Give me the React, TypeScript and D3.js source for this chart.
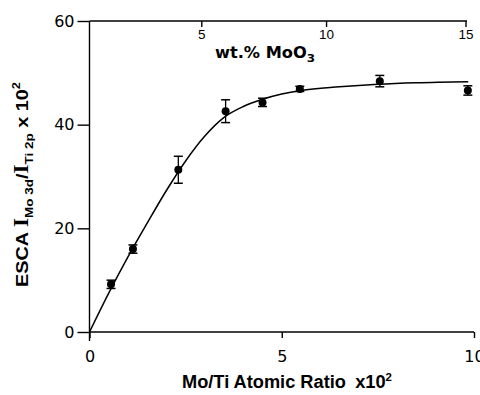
import React, { useRef, useEffect } from 'react';
import * as d3 from 'd3';

// measured points: Mo/Ti atomic ratio x10^2, ESCA intensity ratio x10^2, error
const ratio = [0.56, 1.13, 2.31, 3.54, 4.5, 5.47, 7.55, 9.84];
const intensity = [9.2, 16.0, 31.3, 42.6, 44.3, 46.9, 48.4, 46.6];
const errors = [0.8, 0.8, 2.6, 2.2, 0.8, 0.5, 1.1, 0.9];

// fitted curve
const curveX = [0, 0.5, 1, 1.5, 2, 2.5, 3, 3.5, 4, 4.5, 5, 5.5, 6.5, 7.5, 8.5, 9.85];
const curveY = [0, 7.5, 14.5, 21, 27.3, 33, 37.8, 41.4, 43.5, 44.9, 45.9, 46.6, 47.3, 47.8, 48.1, 48.3];

const yTicks = [0, 20, 40, 60];
const xTicks = [0, 5, 10];
const wtTicks = [5, 10, 15];

// wt.% MoO3 -> Mo/Ti atomic ratio x10^2
const M_MOO3 = 143.94, M_TIO2 = 79.87;
const wtToRatio = (w: number) => (w / 100) * M_TIO2 / ((1 - w / 100) * M_MOO3) * 100;

const App = () => {
    const ref = useRef<SVGSVGElement>(null);

    useEffect(() => {
        const svg = d3.select(ref.current);
        svg.selectAll("*").remove();

        const x = d3.scaleLinear().domain([0, 10]).range([89.5, 474]);
        const y = d3.scaleLinear().domain([0, 60]).range([332, 21]);
        const font = "'Liberation Sans', Arial, sans-serif";
        const tickFont = "'DejaVu Sans', sans-serif";

        // left axis
        const left = svg.append("g").attr("transform", `translate(${x(0)},0)`)
            .call(d3.axisLeft(y).tickValues(yTicks).tickSize(12).tickPadding(3).tickFormat(d3.format("d")));
        left.select(".domain").attr("d", `M0,${y(60)}V${y(0) + 9}`);

        // bottom axis
        const bottom = svg.append("g").attr("transform", `translate(0,${y(0)})`)
            .call(d3.axisBottom(x).tickValues(xTicks).tickSize(6).tickPadding(12.5).tickFormat(d3.format("d")));
        bottom.select(".domain").attr("d", `M${x(0)},0H${x(10)}`);

        svg.selectAll(".tick text").attr("font-size", 16).attr("font-family", tickFont).attr("fill", "#000");
        svg.selectAll(".tick line, .domain").attr("stroke", "#000").attr("stroke-width", 1.4);

        // top axis (wt.% MoO3)
        const top = svg.append("g").attr("transform", `translate(0,${y(60)})`);
        top.append("path").attr("d", `M${x(0)},0H${x(wtToRatio(15)) + 1}`)
            .attr("stroke", "#000").attr("stroke-width", 1.4);
        top.selectAll("line").data(wtTicks).join("line")
            .attr("x1", d => x(wtToRatio(d))).attr("x2", d => x(wtToRatio(d)))
            .attr("y1", 0).attr("y2", 6).attr("stroke", "#000").attr("stroke-width", 1.4);
        top.selectAll("text").data(wtTicks).join("text")
            .attr("x", d => x(wtToRatio(d))).attr("y", 17.5)
            .attr("text-anchor", "middle").attr("font-size", 13.5).attr("font-family", font)
            .text(d => d);

        // curve
        const line = d3.line<number>()
            .x((d, i) => x(curveX[i]))
            .y(d => y(d))
            .curve(d3.curveMonotoneX);
        svg.append("path").datum(curveY)
            .attr("fill", "none").attr("stroke", "#000").attr("stroke-width", 1.5)
            .attr("d", line);

        // error bars + points
        const pts = svg.append("g");
        ratio.forEach((r, i) => {
            const cx = x(r);
            const lo = y(intensity[i] - errors[i]);
            const hi = y(intensity[i] + errors[i]);
            pts.append("line").attr("x1", cx).attr("x2", cx).attr("y1", lo).attr("y2", hi)
                .attr("stroke", "#000").attr("stroke-width", 1.3);
            [lo, hi].forEach(v => pts.append("line")
                .attr("x1", cx - 4.5).attr("x2", cx + 4.5).attr("y1", v).attr("y2", v)
                .attr("stroke", "#000").attr("stroke-width", 1.5));
            pts.append("circle").attr("cx", cx).attr("cy", y(intensity[i])).attr("r", 4).attr("fill", "#000");
        });

        // wt.% label
        const wt = svg.append("text").attr("x", 215).attr("y", 58)
            .attr("textLength", 100).attr("lengthAdjust", "spacingAndGlyphs")
            .attr("font-size", 15).attr("font-weight", "bold").attr("font-family", "'DejaVu Sans', sans-serif");
        wt.append("tspan").text("wt.% MoO");
        wt.append("tspan").attr("dy", 4).attr("font-size", 11).text("3");

        // x title
        const xt = svg.append("text").attr("x", 182).attr("y", 388)
            .attr("textLength", 210).attr("lengthAdjust", "spacingAndGlyphs")
            .attr("font-size", 17.5).attr("font-weight", "bold").attr("font-family", font);
        xt.append("tspan").text("Mo/Ti Atomic Ratio");
        xt.append("tspan").attr("dx", 9).text("x10");
        xt.append("tspan").attr("dy", -7).attr("font-size", 11).text("2");

        // y title
        const serif = "'Liberation Serif', 'Times New Roman', serif";
        const yt = svg.append("text").attr("transform", "translate(28,287) rotate(-90)")
            .attr("textLength", 205).attr("lengthAdjust", "spacingAndGlyphs")
            .attr("font-size", 17).attr("font-weight", "bold").attr("font-family", font);
        yt.append("tspan").text("ESCA ");
        yt.append("tspan").attr("font-family", serif).attr("font-size", 20).text("I");
        yt.append("tspan").attr("dy", 5).attr("font-size", 11.5).text("Mo 3d");
        yt.append("tspan").attr("dy", -5).text("/");
        yt.append("tspan").attr("font-family", serif).attr("font-size", 20).text("I");
        yt.append("tspan").attr("dy", 5).attr("font-size", 11.5).text("Ti 2p");
        yt.append("tspan").attr("dy", -5).text(" x 10");
        yt.append("tspan").attr("dy", -8).attr("font-size", 11).text("2");
    }, []);

    return (
        <svg ref={ref} width={480} height={395}
            style={{ position: 'absolute', left: 0, top: 0, background: '#fff' }} />
    );
};

export default App;
